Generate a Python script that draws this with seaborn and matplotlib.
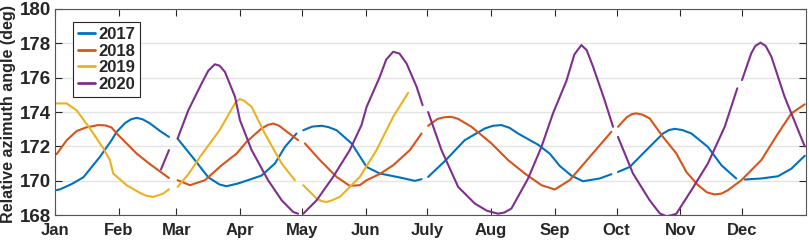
import numpy as np
import pandas as pd
import matplotlib
matplotlib.use('Agg')
import matplotlib.pyplot as plt
import seaborn as sns

nan = np.nan

# month ticks (day of year)
month_days = [0, 31, 59, 90, 120, 151, 181, 212, 243, 273, 304, 334]
month_labels = ['Jan', 'Feb', 'Mar', 'Apr', 'May', 'Jun', 'July', 'Aug', 'Sep', 'Oct', 'Nov', 'Dec']
years = ['2017', '2018', '2019', '2020']
colors = ['#0072BD', '#D95319', '#EDB120', '#7E2F8E']

# values, nan marks a gap in the record
days_2017 = [0.8, 2.5, 8, 13.8, 21.9, 27.5, 30, 34, 37, 39.7, 42.5, 46, 51, 55.4, nan,
             59.6, 68, 74.5, 80, 83.4, 89, 92.3, 100.4, 106.9, 111.8, 117.4, nan,
             120.7, 125, 129.6, 133, 136.9, 144.2, 151.5, 157.9, 167.6, 175, 178.2, nan,
             181.4, 189.5, 199.2, 208.9, 213, 217, 221, 225.1, 234.8, 240.5, 245.4, 251, 256.7, 264.8, 270.5, nan,
             273.7, 279.4, 287.5, 295.6, 298.5, 301.3, 305, 309.4, 317.4, 324, 331.2, nan,
             335.3, 343.4, 351.5, 358, 364.5]
vals_2017 = [169.45, 169.5, 169.8, 170.2, 171.4, 172.36, 172.85, 173.35, 173.58, 173.66, 173.58, 173.35, 172.9, 172.55, nan,
             172.45, 171.2, 170.2, 169.78, 169.68, 169.84, 169.97, 170.3, 171.0, 171.97, 172.75, nan,
             172.94, 173.15, 173.2, 173.12, 172.94, 172.17, 170.8, 170.42, 170.19, 169.99, 170.09, nan,
             170.22, 171.14, 172.36, 173.04, 173.2, 173.24, 173.08, 172.75, 172.1, 171.58, 170.86, 170.3, 169.97, 170.13, 170.38, nan,
             170.51, 170.8, 171.78, 172.75, 172.95, 173.02, 172.95, 172.75, 171.97, 170.9, 170.13, nan,
             170.07, 170.13, 170.26, 170.7, 171.45]

days_2018 = [0.8, 5.7, 10.5, 15, 21, 24.5, 27.5, 30, 39.7, 46.2, 55.4, nan,
             59.6, 65.6, 72.9, 81, 88.3, 93.1, 100.4, 103.5, 106.1, 109, 111.8, 118.2, nan,
             121.5, 128.8, 136.9, 143.3, 148.2, 151.5, 158, 164.4, 172.5, 178.2, nan,
             181.4, 186, 189.5, 192.7, 196, 202.5, 212.2, 220.3, 228.4, 236.5, 243, 250.2, 260, 270.5, nan,
             273.7, 278, 280.5, 282.6, 285.5, 289.1, 295.6, 302, 307, 312.6, 317, 320.7, 324, 327.2, 333.7, 343.4, 351.5, 358, 364.5]
vals_2018 = [171.55, 172.36, 172.89, 173.1, 173.24, 173.22, 173.1, 172.75, 171.58, 170.96, 170.16, nan,
             170.03, 169.74, 170.03, 170.9, 171.58, 172.26, 173.04, 173.25, 173.33, 173.2, 172.94, 172.36, nan,
             172.17, 171.2, 170.22, 169.7, 169.74, 170.03, 170.4, 170.9, 171.78, 172.75, nan,
             173.2, 173.6, 173.7, 173.72, 173.6, 173.14, 172.17, 171.2, 170.42, 169.74, 169.49, 170.03, 171.39, 172.85, nan,
             173.14, 173.7, 173.88, 173.92, 173.85, 173.63, 172.55, 171.6, 170.5, 169.74, 169.32, 169.2, 169.25, 169.45, 170.03, 171.2, 172.75, 173.92, 174.45]

days_2019 = [0.8, 5.7, 10.5, 17, 23.5, 26.7, 28.3, 34.8, 41.3, 44.5, 47.8, 52.6, 55.4, nan,
             59.6, 65, 70.5, 80, 86, 88, 89.9, 92, 95.6, 102, 110.2, 116.6, nan,
             120.7, 127.2, 129.5, 132, 134.5, 138.5, 148.2, 156.3, 164.4, 171.7]
vals_2019 = [174.5, 174.5, 174.1, 173.04, 171.88, 171.2, 170.42, 169.74, 169.29, 169.12, 169.06, 169.25, 169.5, nan,
             169.64, 170.4, 171.39, 172.94, 174.2, 174.6, 174.75, 174.65, 174.3, 172.75, 171.0, 170.03, nan,
             169.74, 168.96, 168.82, 168.76, 168.85, 169.06, 170.22, 171.78, 173.72, 175.12]

days_2020 = [51.5, 55.4, nan,
             59.6, 64.8, 71.3, 74.5, 77.7, 80, 82.6, 87.5, 89.9, 95.6, 103.6, 110.2, 115.8, 118.2, nan,
             120.7, 127.2, 135.2, 143.3, 149, 151.5, 157.9, 161, 164.4, 167.5, 170.9, 175.8, 178.7, nan,
             181.4, 187.9, 196, 204.1, 210, 215.4, 218.5, 221.9, 230, 236.5, 242.1, 248.6, 252.5, 255.9, 258.5,
             261.6, 267.2, 271.3, nan,
             273.7, 281, 289.1, 294, 297.2, 300, 302.1, 309.4, 317.4, 325.6, 331.7, nan,
             334, 338.5, 340.5, 343, 345.5, 348.3, 354.7, 364.5]
vals_2020 = [170.65, 171.78, nan,
             172.46, 174.1, 175.67, 176.4, 176.78, 176.7, 176.34, 174.89, 173.53, 171.78, 170.03, 168.86, 168.18, 168.08, nan,
             168.08, 168.86, 170.22, 171.78, 173.24, 174.3, 176.05, 177.05, 177.51, 177.4, 176.83, 175.47, 174.4, nan,
             174.0, 171.78, 169.64, 168.67, 168.25, 168.08, 168.15, 168.38, 170.13, 171.97, 173.92, 175.8, 177.35, 177.9, 177.6,
             176.64, 174.69, 173.14, nan,
             172.55, 170.42, 168.86, 168.1, 167.93, 168.0, 168.08, 169.45, 171.0, 173.14, 175.38, nan,
             175.86, 177.42, 177.85, 178.04, 177.85, 177.22, 174.89, 172.0]

# split each year into its continuous pieces
rows = []
for year, d, v in zip(years, [days_2017, days_2018, days_2019, days_2020],
                      [vals_2017, vals_2018, vals_2019, vals_2020]):
    seg = 0
    for x, y in zip(d, v):
        if np.isnan(x):
            seg += 1
            continue
        rows.append((year, seg, x, y))
df = pd.DataFrame(rows, columns=['year', 'seg', 'day', 'angle'])

sns.set_theme(style='ticks')
plt.rcParams['font.family'] = ['Liberation Sans', 'DejaVu Sans']
plt.rcParams['font.weight'] = 'bold'

fig = plt.figure(figsize=(8.09, 2.43), dpi=100)
ax = fig.add_axes([0.068, 0.115, 0.928, 0.848])

sns.lineplot(data=df, x='day', y='angle', hue='year', units='seg', estimator=None,
             sort=False, palette=dict(zip(years, colors)), linewidth=1.5, ax=ax)

ax.set_xlim(0, 365)
ax.set_ylim(168, 180)
ax.set_xticks(month_days)
ax.set_xticklabels(month_labels, fontsize=12, fontweight='bold')
ax.set_yticks(range(168, 181, 2))
ax.set_yticklabels([str(t) for t in range(168, 181, 2)], fontsize=13.5, fontweight='bold')
ax.tick_params(direction='in', top=True, right=True, length=5, width=0.8, colors='#262626')
ax.tick_params(axis='x', pad=6)
ax.tick_params(axis='y', pad=3)
ax.yaxis.grid(True, color='#e4e4e4', linewidth=1)
ax.xaxis.grid(False)
for s in ax.spines.values():
    s.set_color('#555555')
    s.set_linewidth(0.8)

ax.set_xlabel('')
ax.set_ylabel('Relative azimuth angle (deg)', fontsize=11.6, fontweight='bold')
ax.yaxis.set_label_coords(-0.0515, 0.49)

handles, labels = ax.get_legend_handles_labels()
leg = ax.legend(handles, labels, loc='upper left', bbox_to_anchor=(0.024, 0.937),
                borderaxespad=0, prop={'weight': 'bold', 'size': 12}, handlelength=1.0,
                handletextpad=0.2, labelspacing=0.1, borderpad=0.3, fancybox=False,
                framealpha=1, edgecolor='#262626')
leg.get_frame().set_linewidth(0.8)
for line in leg.get_lines():
    line.set_linewidth(2)

plt.savefig('out.png', dpi=100)
